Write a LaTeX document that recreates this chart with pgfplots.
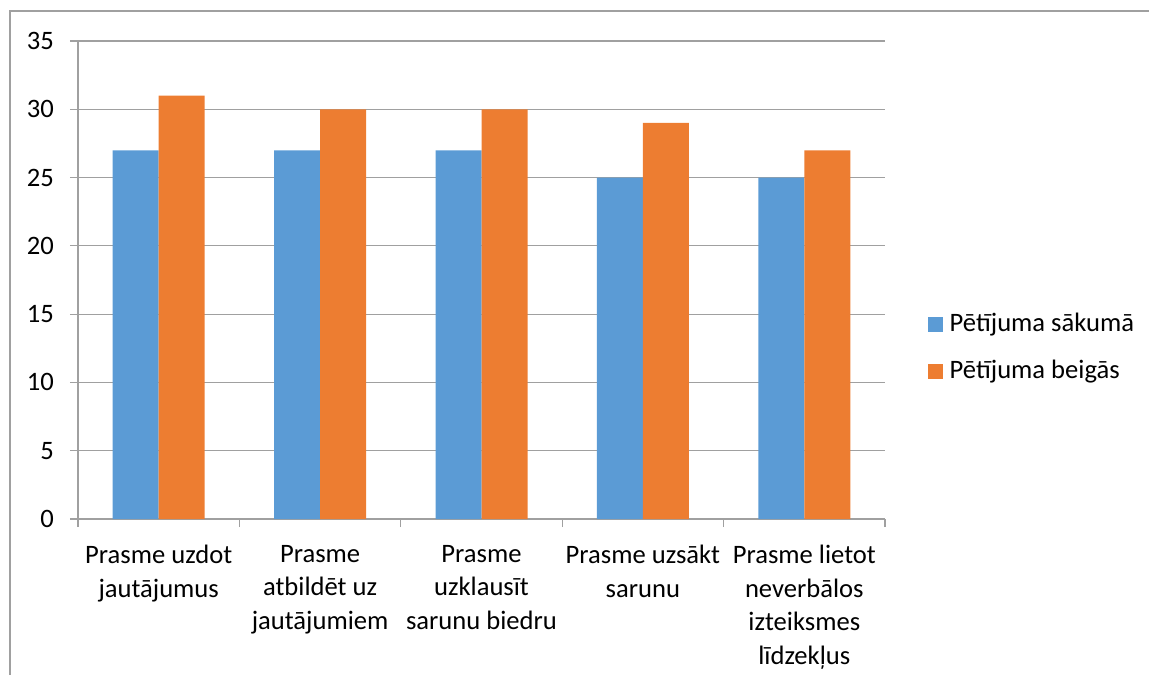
\documentclass[border=0pt]{standalone}
\usepackage{pgfplots}
\pgfplotsset{compat=1.18}
\usepackage{fontspec}
\setmainfont{Carlito}
\definecolor{cblue}{HTML}{5B9BD5}
\definecolor{corange}{HTML}{ED7D31}
\definecolor{cgrid}{HTML}{A0A0A0}
\begin{document}
\fontsize{26.6}{33}\selectfont
\begin{tikzpicture}[x=1pt,y=1pt]
\path[use as bounding box] (0,0) rectangle (1149,675);
\draw[cgrid, line width=1.2pt] (10,0) -- (10,664) -- (1149,664);
\begin{axis}[
  at={(78pt,156pt)}, anchor=south west,
  scale only axis, width=807pt, height=478pt,
  ymin=0, ymax=35, ytick={0,5,...,35},
  xmin=-0.5, xmax=4.5,
  xtick={0,1,2,3,4},
  xticklabels={{Prasme uzdot\\jautājumus},{Prasme\\atbildēt uz\\jautājumiem},{Prasme\\uzklausīt\\sarunu biedru},{Prasme uzsākt\\sarunu},{Prasme lietot\\neverbālos\\izteiksmes\\līdzekļus}},
  minor xtick={-0.5,0.5,...,4.5},
  ybar=0pt, bar width=46pt,
  axis x line*=bottom, axis y line*=left,
  axis line style={cgrid, line width=1.2pt, -},
  ymajorgrids, grid style={cgrid, line width=1.2pt},
  tick style={cgrid, line width=1.2pt},
  tick align=outside,
  major tick length=8pt, minor tick length=8pt,
  major x tick style={draw=none},
  /pgf/number format/assume math mode=true,
  ticklabel style={font=\fontsize{26.6}{33.6}\selectfont, text=black},
  xticklabel style={align=center, anchor=north, yshift=-9pt},
  yticklabel style={xshift=-7pt},
  legend style={at={(1.049,0.358)}, anchor=west, draw=none, fill=none,
    font=\fontsize{26.6}{33}\selectfont, row sep=21pt},
  legend cell align=left,
  legend image code/.code={\fill[#1] (0pt,-7.5pt) rectangle (15pt,7.5pt); \path (20pt,0pt);},
]
\addplot[fill=cblue, draw=none] coordinates {(0,27) (1,27) (2,27) (3,25) (4,25)};
\addplot[fill=corange, draw=none] coordinates {(0,31) (1,30) (2,30) (3,29) (4,27)};
\legend{Pētījuma sākumā, Pētījuma beigās}
\end{axis}
\end{tikzpicture}
\end{document}
